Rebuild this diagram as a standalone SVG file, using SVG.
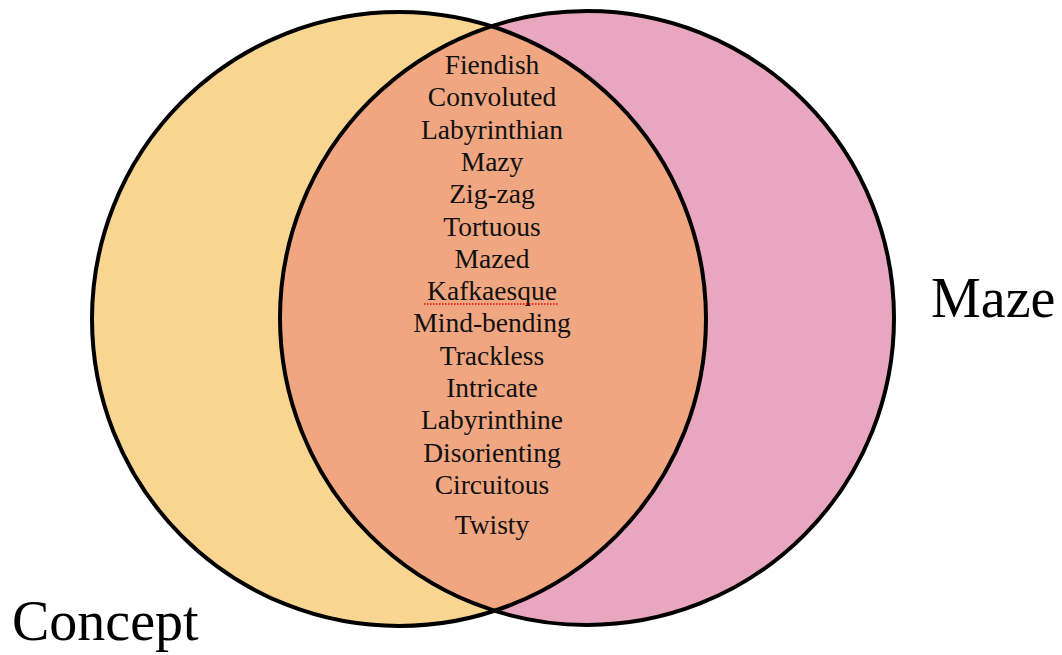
<svg xmlns="http://www.w3.org/2000/svg" width="1062" height="655" viewBox="0 0 1062 655">
<style>
.ring{fill:none;stroke:#000;stroke-width:4}
.word{font-family:"Liberation Serif","Times New Roman",serif;font-size:27.5px;fill:#111;text-anchor:middle}
.title{font-family:"Liberation Serif","Times New Roman",serif;font-size:56px;fill:#000}
</style>
<defs>
<clipPath id="clipLeft"><circle cx="399" cy="319" r="307"/></clipPath>
</defs>
<rect width="1062" height="655" fill="#fff"/>
<g id="concept">
<circle cx="399" cy="319" r="307" fill="#F9D592"/>
</g>
<g id="maze">
<circle cx="587" cy="318" r="307" fill="#E9A6BF"/>
</g>
<g id="overlap">
<circle cx="587" cy="318" r="307" fill="#F0A680" clip-path="url(#clipLeft)"/>
</g>
<g id="outlines">
<circle class="ring" cx="399" cy="319" r="307"/>
<circle class="ring" cx="587" cy="318" r="307"/>
</g>
<g id="connectors"></g>
<g id="words">
<text class="word" x="492" y="74">Fiendish</text>
<text class="word" x="492" y="106.3">Convoluted</text>
<text class="word" x="492" y="138.6">Labyrinthian</text>
<text class="word" x="492" y="170.9">Mazy</text>
<text class="word" x="492" y="203.2">Zig-zag</text>
<text class="word" x="492" y="235.5">Tortuous</text>
<text class="word" x="492" y="267.8">Mazed</text>
<text class="word" x="492" y="300.1">Kafkaesque</text>
<line x1="424" y1="304" x2="559" y2="304" stroke="#e00" stroke-width="1.5" stroke-dasharray="1.5 1.5"/>
<text class="word" x="492" y="332.4">Mind-bending</text>
<text class="word" x="492" y="364.7">Trackless</text>
<text class="word" x="492" y="397">Intricate</text>
<text class="word" x="492" y="429.3">Labyrinthine</text>
<text class="word" x="492" y="461.6">Disorienting</text>
<text class="word" x="492" y="493.9">Circuitous</text>
<text class="word" x="492" y="534">Twisty</text>
</g>
<g id="labels">
<text class="title" x="12" y="640">Concept</text>
<text class="title" x="931" y="317">Maze</text>
</g>
</svg>
